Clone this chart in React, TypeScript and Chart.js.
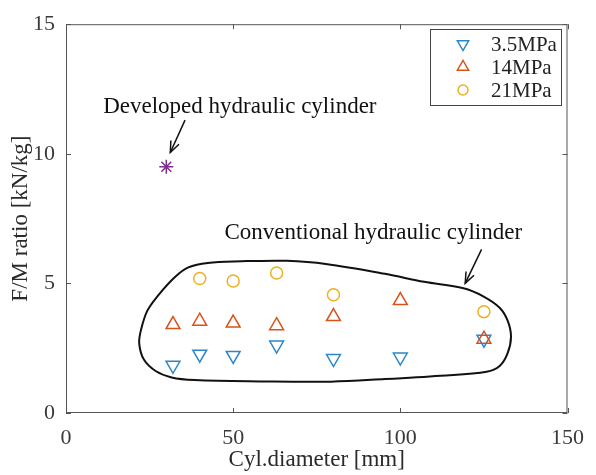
import React, { useEffect, useRef } from 'react';
import { Chart, registerables } from 'chart.js';

Chart.register(...registerables);

// ---- data ----
const diameters = [32, 40, 50, 63, 80, 100, 125];
const ratio3_5MPa = [1.84, 2.27, 2.22, 2.62, 2.1, 2.16, 2.85];
const ratio14MPa = [3.41, 3.54, 3.47, 3.37, 3.72, 4.34, 2.85];
const diameters21 = [40, 50, 63, 80, 125];
const ratio21MPa = [5.19, 5.09, 5.4, 4.56, 3.91];
const developedDiameter = [30];
const developedRatio = [9.5];
const xTicks = [0, 50, 100, 150];
const yTicks = [0, 5, 10, 15];
// outline around the conventional cylinders (data coordinates, clockwise)
const hullX = [54.2, 66.0, 77.7, 95.4, 107.1, 118.9, 124.8, 129.7, 132.1, 133.1, 132.1, 129.7, 125.8, 112.1, 95.4, 79.2, 58.1, 38.5, 31.6, 26.8, 23.3, 21.9, 22.4, 24.3, 27.7, 32.6, 36.6, 42.4, 54.2];
const hullY = [5.86, 5.87, 5.75, 5.37, 5.06, 4.81, 4.5, 4.06, 3.56, 2.94, 2.31, 1.81, 1.59, 1.44, 1.31, 1.21, 1.22, 1.27, 1.37, 1.62, 2.06, 2.68, 3.19, 3.94, 4.56, 5.25, 5.62, 5.79, 5.86];

const legendLabels = ['3.5MPa', '14MPa', '21MPa'];
const colors = ['#2C86C8', '#D95319', '#EDB120'];
const purple = '#7E2F8E';
const serif = '"Liberation Serif", "Times New Roman", serif';

const pts = (xs: number[], ys: number[]) => xs.map((x, i) => ({ x, y: ys[i] }));

const annotations = [
  { text: 'Developed hydraulic cylinder', x: 52, y: 11.82, from: [35.6, 11.3], to: [31.2, 10.05] },
  { text: 'Conventional hydraulic cylinder', x: 91.9, y: 6.95, from: [124.3, 6.31], to: [119.4, 5.0] },
];

function drawArrow(ctx: CanvasRenderingContext2D, x1: number, y1: number, x2: number, y2: number) {
  ctx.beginPath();
  ctx.moveTo(x1, y1);
  ctx.lineTo(x2, y2);
  ctx.stroke();
  const a = Math.atan2(y2 - y1, x2 - x1);
  const L = 12;
  const w = 0.38;
  ctx.beginPath();
  ctx.moveTo(x2 - L * Math.cos(a - w), y2 - L * Math.sin(a - w));
  ctx.lineTo(x2, y2);
  ctx.lineTo(x2 - L * Math.cos(a + w), y2 - L * Math.sin(a + w));
  ctx.stroke();
}

const overlay = {
  id: 'overlay',
  afterDraw(chart: any) {
    const { ctx, chartArea: ca, scales } = chart;
    const xs = scales.x;
    const ys = scales.y;
    ctx.save();
    // frame
    ctx.strokeStyle = '#555';
    ctx.lineWidth = 1;
    ctx.strokeRect(ca.left + 0.5, ca.top + 0.5, ca.right - ca.left - 1, ca.bottom - ca.top - 1);
    // inward ticks
    ctx.beginPath();
    xTicks.forEach((v) => {
      const px = Math.round(xs.getPixelForValue(v)) + 0.5;
      ctx.moveTo(px, ca.bottom);
      ctx.lineTo(px, ca.bottom - 5);
      ctx.moveTo(px, ca.top);
      ctx.lineTo(px, ca.top + 5);
    });
    yTicks.forEach((v) => {
      const py = Math.round(ys.getPixelForValue(v)) + 0.5;
      ctx.moveTo(ca.left, py);
      ctx.lineTo(ca.left + 5, py);
      ctx.moveTo(ca.right, py);
      ctx.lineTo(ca.right - 5, py);
    });
    ctx.stroke();

    // annotations
    ctx.fillStyle = '#111';
    ctx.strokeStyle = '#111';
    ctx.lineWidth = 1.5;
    ctx.font = `23px ${serif}`;
    ctx.textAlign = 'center';
    ctx.textBaseline = 'middle';
    annotations.forEach((an) => {
      ctx.fillText(an.text, xs.getPixelForValue(an.x), ys.getPixelForValue(an.y));
      drawArrow(
        ctx,
        xs.getPixelForValue(an.from[0]),
        ys.getPixelForValue(an.from[1]),
        xs.getPixelForValue(an.to[0]),
        ys.getPixelForValue(an.to[1])
      );
    });

    // legend
    const bx = 430.5, by = 29.5, bw = 131, bh = 76;
    ctx.fillStyle = '#fff';
    ctx.fillRect(bx, by, bw, bh);
    ctx.strokeStyle = '#444';
    ctx.lineWidth = 1;
    ctx.strokeRect(bx, by, bw, bh);
    const rowY = [44, 67, 90];
    ctx.font = `21px ${serif}`;
    ctx.textAlign = 'left';
    ctx.textBaseline = 'middle';
    legendLabels.forEach((lab, i) => {
      const mx = 463;
      const my = rowY[i];
      ctx.strokeStyle = colors[i];
      ctx.lineWidth = 1.5;
      ctx.beginPath();
      const r = 6.5;
      if (i === 0) {
        ctx.moveTo(mx - r * 0.866, my - r * 0.5);
        ctx.lineTo(mx + r * 0.866, my - r * 0.5);
        ctx.lineTo(mx, my + r);
        ctx.closePath();
      } else if (i === 1) {
        ctx.moveTo(mx - r * 0.866, my + r * 0.5);
        ctx.lineTo(mx + r * 0.866, my + r * 0.5);
        ctx.lineTo(mx, my - r);
        ctx.closePath();
      } else {
        ctx.arc(mx, my, 5, 0, Math.PI * 2);
      }
      ctx.stroke();
      ctx.fillStyle = '#222';
      ctx.fillText(lab, 491, my + 1);
    });
    ctx.restore();
  },
};

export default function App() {
  const ref = useRef<HTMLCanvasElement | null>(null);
  useEffect(() => {
    if (!ref.current) return;
    const marker = (color: string, style: string, rotation = 0, radius = 8) => ({
      pointStyle: style,
      rotation,
      pointRotation: rotation,
      pointRadius: radius,
      pointBorderColor: color,
      borderColor: color,
      backgroundColor: 'rgba(0,0,0,0)',
      pointBackgroundColor: 'rgba(0,0,0,0)',
      pointBorderWidth: 1.5,
      borderWidth: 1.5,
      showLine: false,
    });
    const chart = new Chart(ref.current, {
      type: 'scatter',
      data: {
        datasets: [
          { label: 'Developed', data: pts(developedDiameter, developedRatio), ...marker(purple, 'star', 0, 7) } as any,
          { label: legendLabels[2], data: pts(diameters21, ratio21MPa), ...marker(colors[2], 'circle', 0, 6) } as any,
          { label: legendLabels[1], data: pts(diameters, ratio14MPa), ...marker(colors[1], 'triangle', 0, 8) } as any,
          { label: legendLabels[0], data: pts(diameters, ratio3_5MPa), ...marker(colors[0], 'triangle', 180, 8) } as any,
          {
            label: 'outline',
            data: pts(hullX, hullY),
            showLine: true,
            borderColor: '#111',
            borderWidth: 2,
            pointRadius: 0,
            tension: 0.35,
            fill: false,
          } as any,
        ],
      },
      options: {
        animation: false,
        responsive: true,
        maintainAspectRatio: false,
        layout: { padding: { left: 0, top: 13, right: 20, bottom: 0 } },
        plugins: { legend: { display: false }, tooltip: { enabled: false } },
        scales: {
          x: {
            type: 'linear',
            min: 0,
            max: 150,
            afterBuildTicks: (s: any) => { s.ticks = xTicks.map((v) => ({ value: v })); },
            afterFit: (s: any) => { s.height = 62; },
            grid: { display: false, drawTicks: false },
            border: { display: false },
            ticks: { padding: 12, color: '#3a3a3a', font: { family: serif, size: 22 }, maxRotation: 0 },
            title: { display: true, text: 'Cyl.diameter [mm]', color: '#2a2a2a', font: { family: serif, size: 23 }, padding: { top: 0, bottom: 1 } },
          },
          y: {
            type: 'linear',
            min: 0,
            max: 15,
            afterBuildTicks: (s: any) => { s.ticks = yTicks.map((v) => ({ value: v })); },
            afterFit: (s: any) => { s.width = 66; },
            grid: { display: false, drawTicks: false },
            border: { display: false },
            ticks: { padding: 11, color: '#3a3a3a', font: { family: serif, size: 22 } },
            title: { display: true, text: 'F/M ratio [kN/kg]', color: '#2a2a2a', font: { family: serif, size: 23 }, padding: { top: 7, bottom: 0 } },
          },
        },
      },
      plugins: [overlay as any],
    });
    return () => chart.destroy();
  }, []);
  return (
    <div style={{ position: 'fixed', left: 0, top: 0, width: 596, height: 475, background: '#fff' }}>
      <canvas ref={ref} />
    </div>
  );
}
